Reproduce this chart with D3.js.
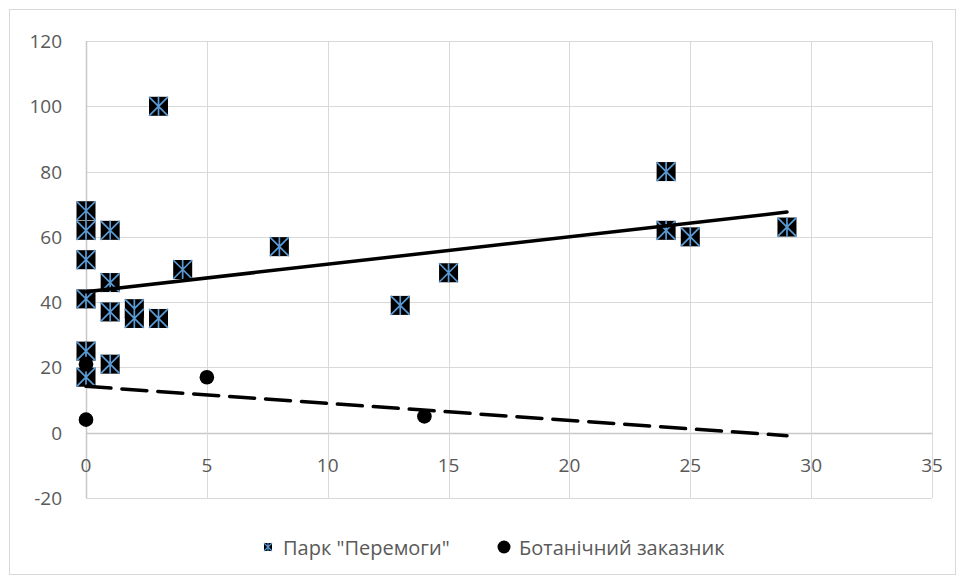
<!DOCTYPE html>
<html>
<head>
<meta charset="utf-8">
<script src="https://cdn.jsdelivr.net/npm/d3@7"></script>
<style>
  html, body { margin: 0; padding: 0; background: #fff; }
  svg { display: block; }
  text { font-family: "Open Sans", "Noto Sans", sans-serif; fill: #595959; }
</style>
</head>
<body>
<svg id="chart" width="965" height="582"></svg>
<script>
// ---- data ----
const seriesNames = ['Парк "Перемоги"', 'Ботанічний заказник'];
const parkX = [0, 0, 0, 0, 0, 0, 1, 1, 1, 1, 2, 2, 3, 3, 4, 8, 13, 15, 24, 24, 25, 29];
const parkY = [68, 62, 53, 41, 25, 17, 62, 46, 37, 21, 38, 35, 35, 100, 50, 57, 39, 49, 80, 62, 60, 63];
const botX = [0, 0, 5, 14];
const botY = [21, 4, 17, 5];
// linear trendlines (endpoints)
const trendX = [0, 29];
const parkTrendY = [43.2, 67.6];
const botTrendY = [14.2, -0.9];
// axis ticks
const xTicks = [0, 5, 10, 15, 20, 25, 30, 35];
const yTicks = [-20, 0, 20, 40, 60, 80, 100, 120];

const svg = d3.select('#chart');

// chart border
svg.append('rect')
  .attr('x', 9.5).attr('y', 9.5).attr('width', 946).attr('height', 565)
  .attr('fill', '#fff').attr('stroke', '#d9d9d9').attr('stroke-width', 1);

const x = d3.scaleLinear().domain([0, 35]).range([86, 932]);
const y = d3.scaleLinear().domain([-20, 120]).range([498, 41]);

const grid = svg.append('g');
grid.selectAll('line.h').data(yTicks).join('line')
  .attr('x1', x(0)).attr('x2', x(35))
  .attr('y1', d => Math.round(y(d)) + 0.5).attr('y2', d => Math.round(y(d)) + 0.5)
  .attr('stroke', d => d === 0 ? '#c8c8c8' : '#d9d9d9').attr('stroke-width', d => d === 0 ? 1.5 : 1);
grid.selectAll('line.v').data(xTicks).join('line')
  .attr('y1', y(120)).attr('y2', y(-20))
  .attr('x1', d => Math.round(x(d)) + 0.5).attr('x2', d => Math.round(x(d)) + 0.5)
  .attr('stroke', d => d === 0 ? '#c8c8c8' : '#d9d9d9').attr('stroke-width', d => d === 0 ? 1.5 : 1);

// y labels
svg.append('g').selectAll('text').data(yTicks).join('text')
  .attr('x', 62).attr('y', d => y(d))
  .attr('text-anchor', 'end').attr('dominant-baseline', 'central')
  .attr('font-size', 19)
  .text(d => d);

// x labels
svg.append('g').selectAll('text').data(xTicks).join('text')
  .attr('x', d => x(d)).attr('y', y(0) + 32)
  .attr('text-anchor', 'middle').attr('dominant-baseline', 'central')
  .attr('font-size', 19)
  .text(d => d);

// park markers
const S = 19;
function drawStarSquare(g, cx, cy, size) {
  const hh = size / 2;
  g.append('rect').attr('x', cx - hh).attr('y', cy - hh).attr('width', size).attr('height', size)
    .attr('fill', '#000');
  const p = d3.path();
  p.moveTo(cx - hh, cy - hh); p.lineTo(cx + hh, cy + hh);
  p.moveTo(cx + hh, cy - hh); p.lineTo(cx - hh, cy + hh);
  p.moveTo(cx, cy - hh); p.lineTo(cx, cy + hh);
  g.append('path').attr('d', p.toString()).attr('stroke', '#5b9bd5')
    .attr('stroke-width', size > 12 ? 1.7 : 1.1).attr('fill', 'none');
}
const parkG = svg.append('g');
parkX.forEach((xv, i) => {
  drawStarSquare(parkG.append('g'), x(xv), y(parkY[i]), S);
});

// botanical markers
svg.append('g').selectAll('circle').data(botX.map((v, i) => [v, botY[i]])).join('circle')
  .attr('cx', d => x(d[0])).attr('cy', d => y(d[1])).attr('r', 7.3).attr('fill', '#000');

// trendlines
const line = d3.line().x(d => x(d[0])).y(d => y(d[1]));
svg.append('path').datum(trendX.map((v, i) => [v, parkTrendY[i]]))
  .attr('d', line).attr('stroke', '#000').attr('stroke-width', 3.5).attr('fill', 'none')
  .attr('stroke-linecap', 'round');
svg.append('path').datum(trendX.map((v, i) => [v, botTrendY[i]]))
  .attr('d', line).attr('stroke', '#000').attr('stroke-width', 3.5).attr('fill', 'none')
  .attr('stroke-dasharray', '25,11').attr('stroke-linecap', 'round');

// legend
const leg = svg.append('g');
drawStarSquare(leg, 268, 547, 8);
leg.append('text').attr('x', 283).attr('y', 547).attr('dominant-baseline', 'central')
  .attr('font-size', 20).text(seriesNames[0]);
leg.append('circle').attr('cx', 504).attr('cy', 547).attr('r', 6.5).attr('fill', '#000');
leg.append('text').attr('x', 519).attr('y', 547).attr('dominant-baseline', 'central')
  .attr('font-size', 20).text(seriesNames[1]);
</script>
</body>
</html>
